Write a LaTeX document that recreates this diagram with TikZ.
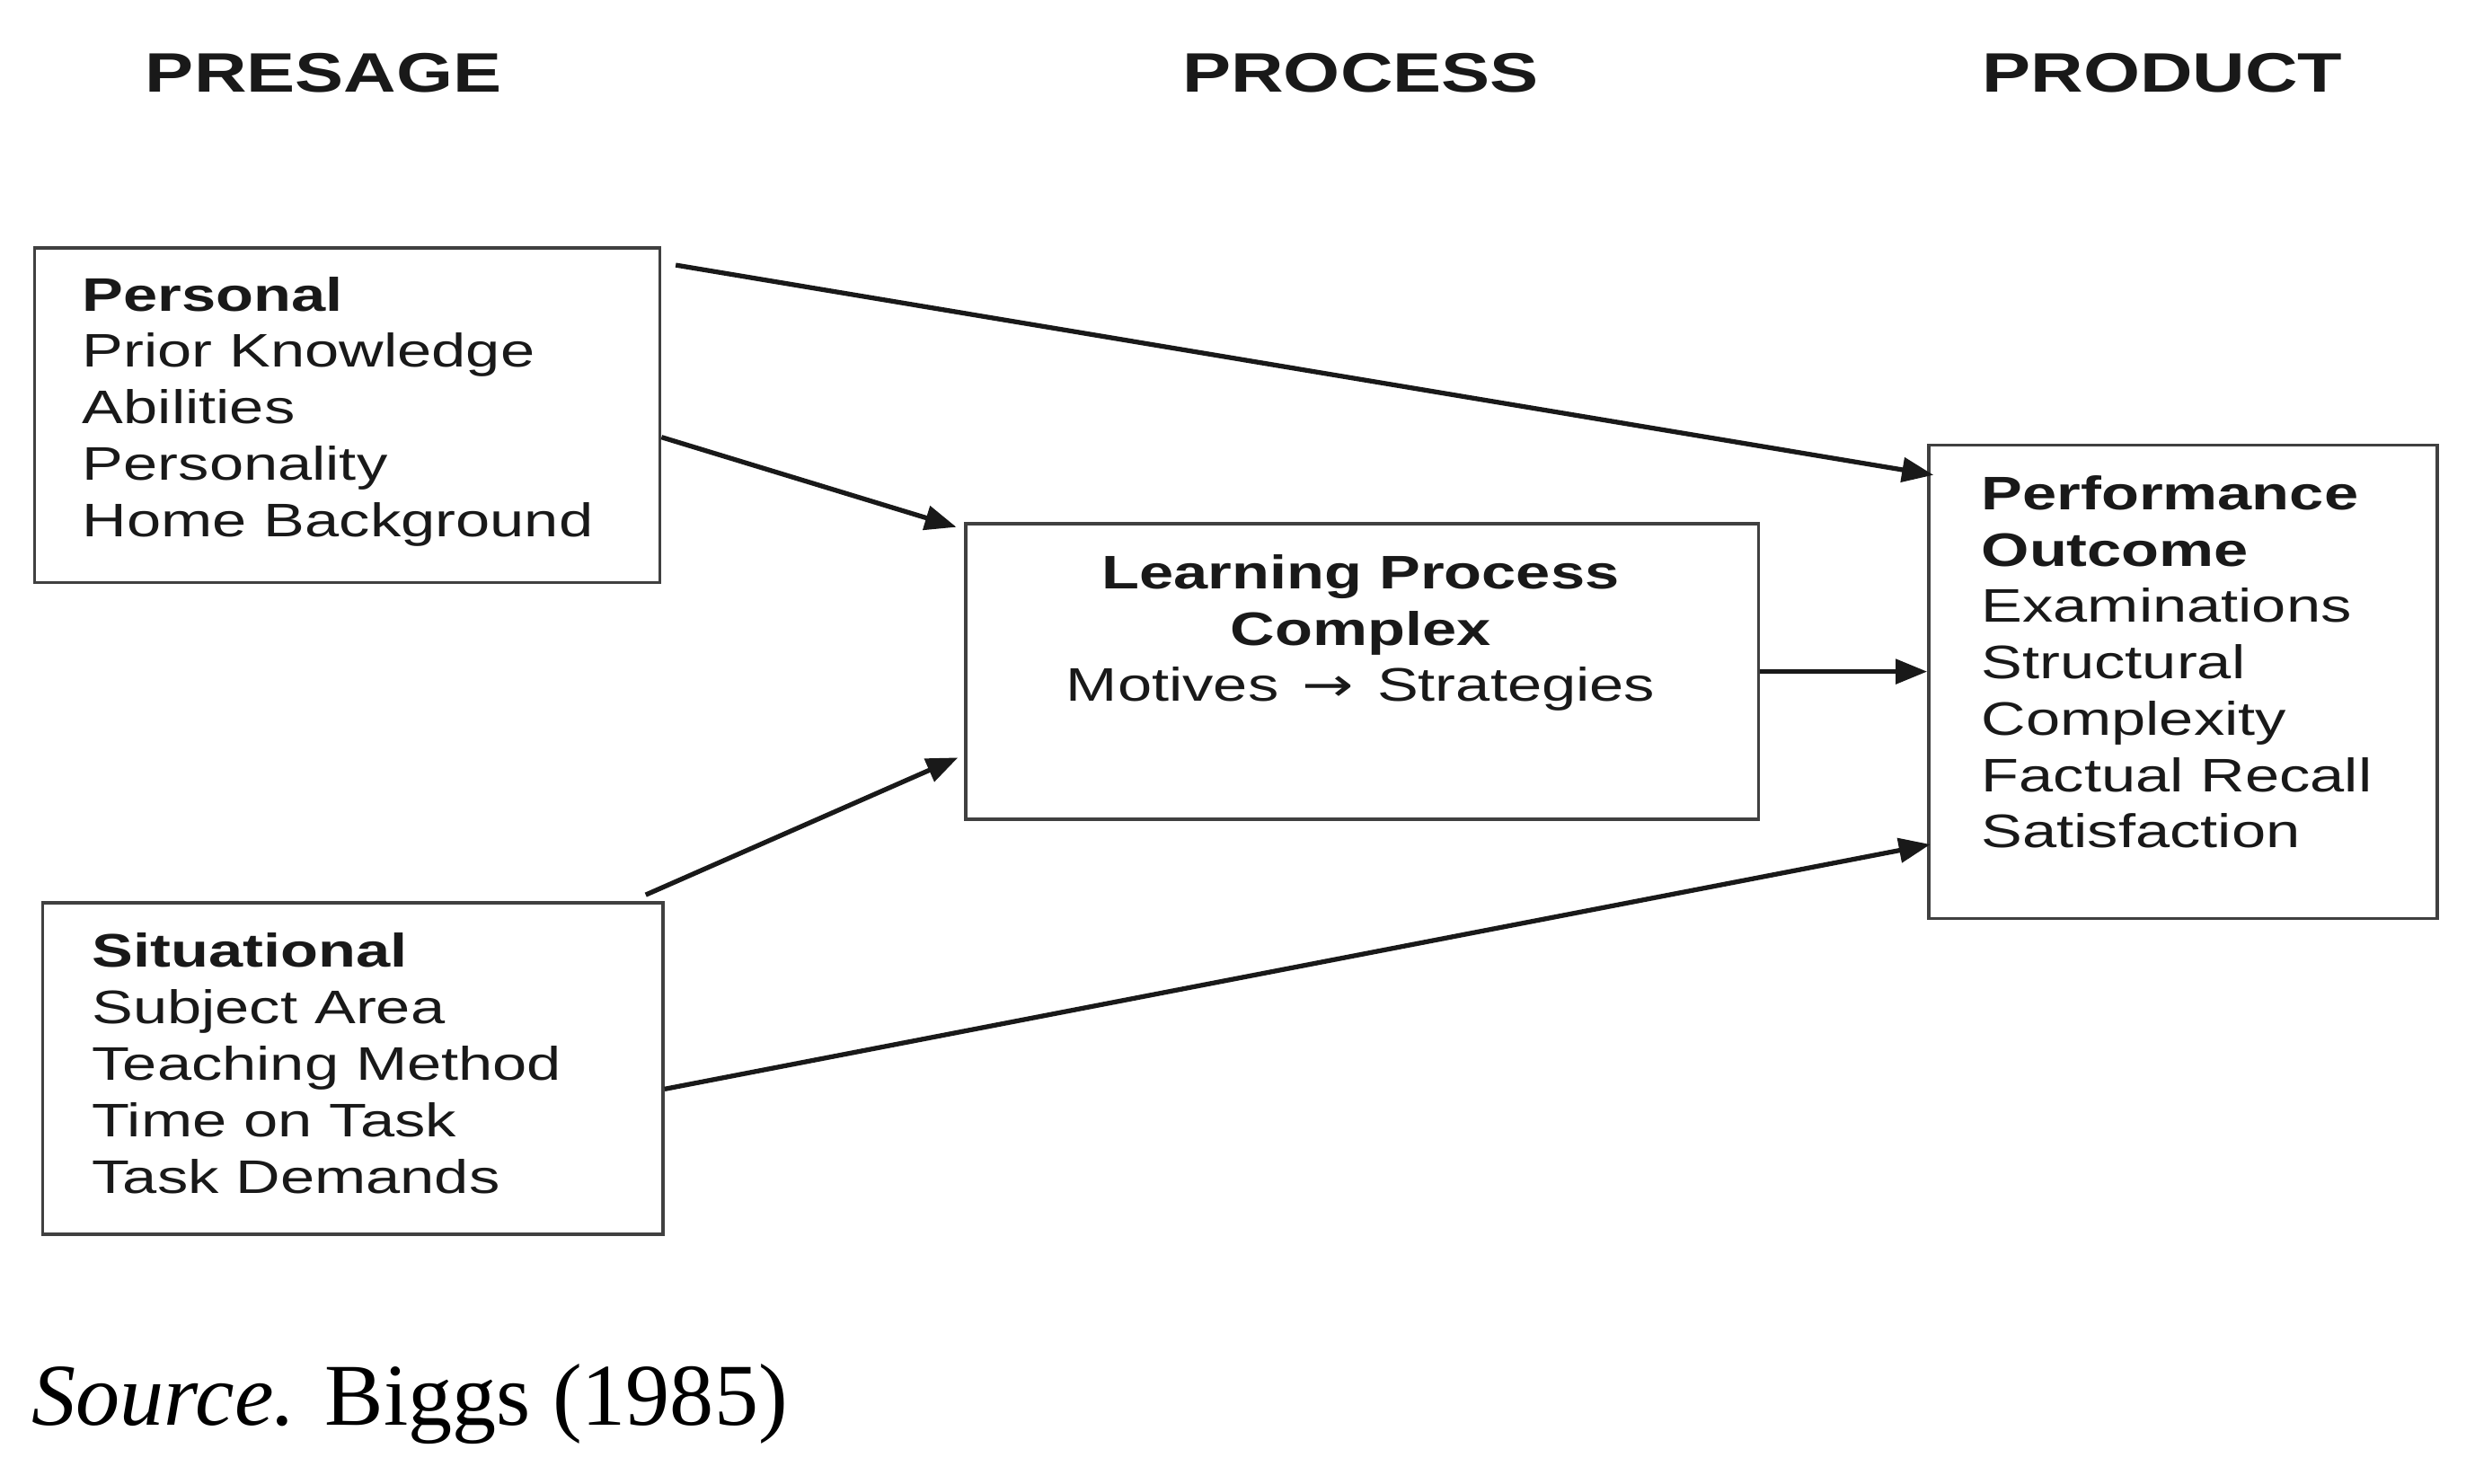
\documentclass[tikz,border=0pt]{standalone}
\usepackage{fontspec}
\setmainfont{Liberation Serif}
\newfontfamily\diagfont[FakeStretch=1.31]{Liberation Sans}
\newfontfamily\arrowfont[FakeStretch=1.31]{DejaVu Sans}
\usetikzlibrary{arrows.meta, positioning, calc}

\begin{document}
\begin{tikzpicture}[
    x=0.01757cm, y=-0.01757cm,
    box/.style={rectangle, draw=black!75, line width=1pt, inner sep=0pt},
    boxtext/.style={inner sep=0pt, text=black!90, align=left, font={\diagfont\fontsize{14.9pt}{17.85pt}\selectfont}},
    heading/.style={inner sep=0pt, text=black!90, font={\diagfont\bfseries\fontsize{17.6pt}{20pt}\selectfont}},
    arrow/.style={-{Triangle[length=0.35cm, width=0.27cm]}, line width=1.5pt, black!90}
]
\useasboundingbox (0,0) rectangle (1568,940);

% Column headings
\node[heading] (presage) at (205,46) {PRESAGE};
\node[heading] (process) at (862,46) {PROCESS};
\node[heading] (product) at (1370,46) {PRODUCT};

% Boxes
\node[box, minimum width=6.958cm, minimum height=3.725cm] (personal) at (220,263) {};
\node[box, minimum width=6.905cm, minimum height=3.690cm] (situational) at (223.5,677) {};
\node[box, minimum width=8.820cm, minimum height=3.286cm] (learning) at (863,425.5) {};
\node[box, minimum width=5.658cm, minimum height=5.271cm] (outcome) at (1383,432) {};

% Box contents
\node[boxtext, anchor=north west] (personaltxt) at ($(personal.north west)+(31,19)$)
    {\textbf{Personal}\\Prior Knowledge\\Abilities\\Personality\\Home Background};
\node[boxtext, anchor=north west] (situationaltxt) at ($(situational.north west)+(32,20)$)
    {\textbf{Situational}\\Subject Area\\Teaching Method\\Time on Task\\Task Demands};
\node[boxtext, align=center, anchor=north] (learningtxt) at ($(learning.north)+(-1,20)$)
    {\textbf{Learning Process}\\\textbf{Complex}\\Motives\hspace{2pt} {\arrowfont →} \hspace{2pt}Strategies};
\node[boxtext, anchor=north west] (outcometxt) at ($(outcome.north west)+(34,20)$)
    {\textbf{Performance}\\\textbf{Outcome}\\Examinations\\Structural\\Complexity\\Factual Recall\\Satisfaction};

% Arrows
\draw[arrow] ($(personal.north east)+(9,12)$) -- ($(outcome.north west)+(4,20)$);
\draw[arrow] ($(personal.east)+(0,14)$) -- ($(learning.north west)+(-5,3)$);
\draw[arrow] ($(situational.north east)+(-12,-4)$) -- ($(learning.west)+(-4,54.5)$);
\draw[arrow] ($(situational.east)+(0,13)$) -- ($(outcome.west)+(2,103)$);
\draw[arrow] (learning.east) -- (learning.east -| outcome.west);

% Source line
\node[inner sep=0pt, anchor=base west, font=\fontsize{27.9pt}{32pt}\selectfont] (source) at (20,903)
    {\textit{Source.} Biggs (1985)};

\end{tikzpicture}
\end{document}
